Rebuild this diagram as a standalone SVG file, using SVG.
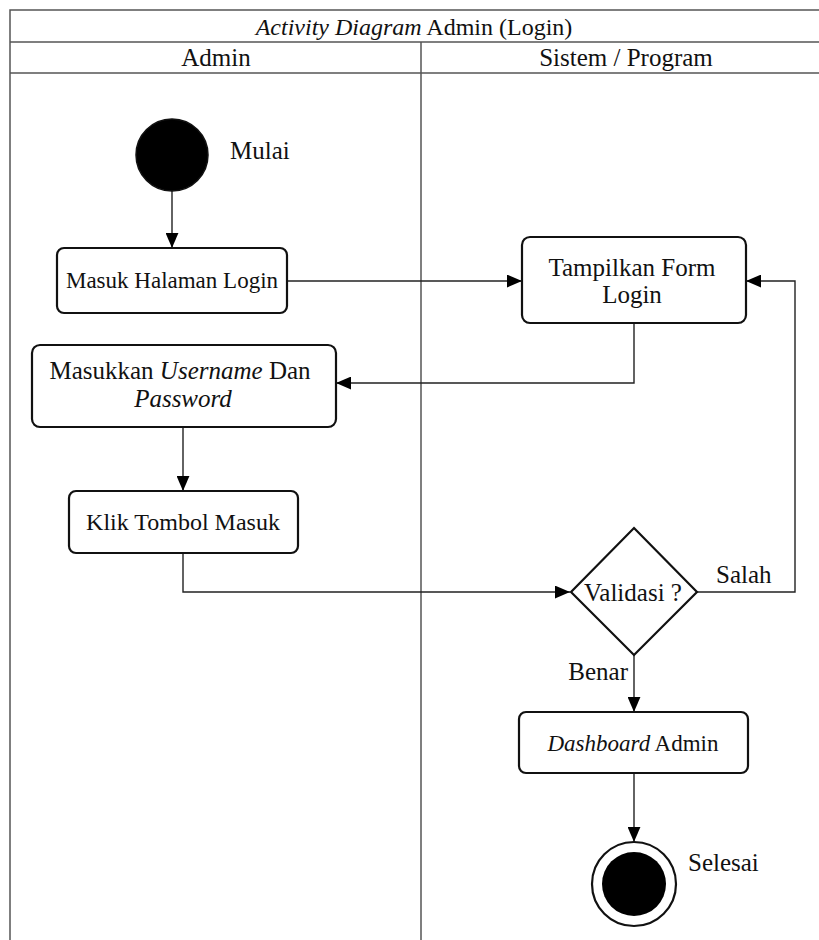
<svg xmlns="http://www.w3.org/2000/svg" width="819" height="940" viewBox="0 0 819 940">
<defs>
<style>
text{font-family:"Liberation Serif","Times New Roman",serif;font-size:25px;fill:#111}
.c{text-anchor:middle}
.i{font-style:italic}
.s23{font-size:23px}
.s24{font-size:24px}
.frame{fill:none;stroke:#555;stroke-width:1.5}
.box{fill:#fff;stroke:#111;stroke-width:2.2}
.ln{fill:none;stroke:#222;stroke-width:1.4}
</style>
<marker id="ah" viewBox="0 0 14 12" refX="14" refY="6" markerWidth="15" markerHeight="13" markerUnits="userSpaceOnUse" orient="auto">
<path d="M0,0 L14,6 L0,12 Z" fill="#000"/>
</marker>
</defs>
<rect width="819" height="940" fill="#fff"/>
<g id="frame">
<path class="frame" d="M10,940 V10 H819 M10,42 H819 M10,73 H819 M421,42 V940"/>
<text class="c s24" x="414" y="35"><tspan class="i">Activity Diagram</tspan> Admin (Login)</text>
<text class="c" x="216" y="66">Admin</text>
<text class="c" x="626" y="66">Sistem / Program</text>
</g>
<g id="connectors">
<path class="ln" d="M172,191 V248" marker-end="url(#ah)"/>
<path class="ln" d="M287,281 H522" marker-end="url(#ah)"/>
<path class="ln" d="M634,323 V383 H336" marker-end="url(#ah)"/>
<path class="ln" d="M183,427 V491" marker-end="url(#ah)"/>
<path class="ln" d="M183,553 V592 H570" marker-end="url(#ah)"/>
<path class="ln" d="M697,592 H795 V281 H746" marker-end="url(#ah)"/>
<path class="ln" d="M634,655 V712" marker-end="url(#ah)"/>
<path class="ln" d="M634,773 V842" marker-end="url(#ah)"/>
<text x="716" y="583">Salah</text>
<text x="628" y="680" text-anchor="end">Benar</text>
</g>
<g id="start">
<circle cx="172" cy="155" r="36" fill="#000" stroke="#111" stroke-width="1.5"/>
<text x="230" y="159">Mulai</text>
</g>
<g id="masuk-halaman">
<rect class="box" x="57" y="248" width="230" height="65" rx="7"/>
<text class="c s23" x="172" y="288">Masuk Halaman Login</text>
</g>
<g id="tampilkan-form">
<rect class="box" x="522" y="237" width="224" height="86" rx="8"/>
<text class="c" x="632" y="276">Tampilkan Form</text>
<text class="c" x="632" y="303">Login</text>
</g>
<g id="masukkan-username">
<rect class="box" x="32" y="345" width="304" height="82" rx="8"/>
<text class="c" x="180" y="379">Masukkan <tspan class="i">Username</tspan> Dan</text>
<text class="c i" x="183" y="407">Password</text>
</g>
<g id="klik-tombol">
<rect class="box" x="69" y="491" width="229" height="62" rx="7"/>
<text class="c s24" x="183" y="530">Klik Tombol Masuk</text>
</g>
<g id="validasi">
<polygon points="634,528 697,592 634,655 571,592" fill="#fff" stroke="#111" stroke-width="2.2"/>
<text class="c" x="633" y="601">Validasi ?</text>
</g>
<g id="dashboard">
<rect class="box" x="519" y="712" width="229" height="61" rx="7"/>
<text class="c s23" x="633" y="751"><tspan class="i">Dashboard</tspan> Admin</text>
</g>
<g id="selesai">
<circle cx="634" cy="884" r="42" fill="#fff" stroke="#111" stroke-width="2.2"/>
<circle cx="634" cy="884" r="32" fill="#000"/>
<text x="688" y="871">Selesai</text>
</g>
</svg>
